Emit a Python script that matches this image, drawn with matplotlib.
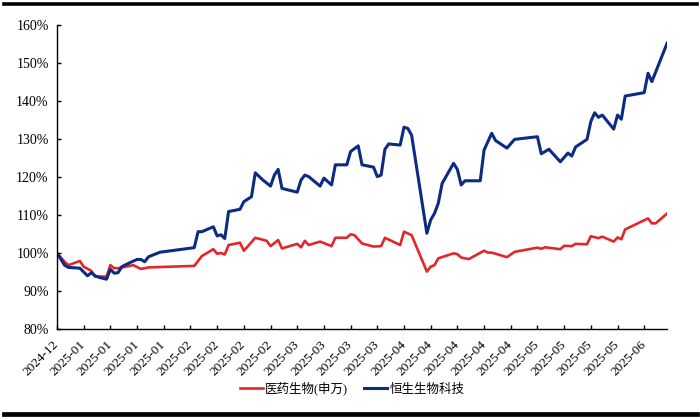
import matplotlib
matplotlib.use("Agg")
import matplotlib.pyplot as plt
from matplotlib.lines import Line2D
import pandas as pd

# ---- data ----
blue_name = "恒生生物科技"
red_name = "医药生物(申万)"

blue_dates = ["2024-12-31", "2025-01-02", "2025-01-03", "2025-01-06", "2025-01-08", "2025-01-09",
              "2025-01-10", "2025-01-11", "2025-01-13", "2025-01-14", "2025-01-15", "2025-01-16",
              "2025-01-17", "2025-01-19", "2025-01-21", "2025-01-22", "2025-01-23", "2025-01-24",
              "2025-01-27", "2025-02-05", "2025-02-06", "2025-02-07", "2025-02-10", "2025-02-11",
              "2025-02-12", "2025-02-13", "2025-02-14", "2025-02-17", "2025-02-18", "2025-02-20",
              "2025-02-21", "2025-02-23", "2025-02-25", "2025-02-26", "2025-02-27", "2025-02-28",
              "2025-03-04", "2025-03-05", "2025-03-06", "2025-03-07", "2025-03-10", "2025-03-11",
              "2025-03-13", "2025-03-14", "2025-03-17", "2025-03-18", "2025-03-20", "2025-03-21",
              "2025-03-24", "2025-03-25", "2025-03-26", "2025-03-27", "2025-03-28", "2025-03-31",
              "2025-04-01", "2025-04-02", "2025-04-03", "2025-04-07", "2025-04-08", "2025-04-09",
              "2025-04-10", "2025-04-11", "2025-04-14", "2025-04-15", "2025-04-16", "2025-04-17",
              "2025-04-21", "2025-04-22", "2025-04-24", "2025-04-25", "2025-04-28", "2025-04-30",
              "2025-05-06", "2025-05-07", "2025-05-09", "2025-05-12", "2025-05-14", "2025-05-15",
              "2025-05-16", "2025-05-19", "2025-05-20", "2025-05-21", "2025-05-22", "2025-05-23",
              "2025-05-26", "2025-05-27", "2025-05-28", "2025-05-29", "2025-06-03", "2025-06-04",
              "2025-06-05", "2025-06-09"]
blue_vals = [100.0, 96.8, 96.2, 96.0, 94.0, 94.8,
             94.0, 93.6, 93.1, 95.7, 94.7, 94.8,
             96.4, 97.4, 98.3, 98.3, 97.7, 99.0,
             100.2, 101.4, 105.6, 105.6, 106.9, 104.5,
             104.8, 103.8, 110.9, 111.5, 113.5, 114.8,
             121.1, 119.2, 117.6, 120.5, 122.0, 117.0,
             116.0, 119.2, 120.5, 120.1, 117.6, 119.7,
             117.9, 123.2, 123.2, 126.7, 128.2, 123.2,
             122.6, 120.1, 120.5, 127.3, 128.7, 128.4,
             133.1, 132.8, 131.0, 105.2, 108.7, 110.4,
             113.1, 118.3, 123.6, 122.0, 117.9, 119.0,
             119.0, 127.1, 131.5, 129.6, 127.6, 129.9,
             130.6, 126.1, 127.3, 124.0, 126.3, 125.5,
             127.9, 129.9, 134.6, 136.9, 135.7, 136.3,
             132.6, 136.3, 135.2, 141.3, 142.2, 147.3,
             145.1, 155.2]

red_dates = ["2024-12-31", "2025-01-02", "2025-01-03", "2025-01-06", "2025-01-07", "2025-01-09",
             "2025-01-10", "2025-01-13", "2025-01-14", "2025-01-15", "2025-01-16", "2025-01-20",
             "2025-01-22", "2025-01-24", "2025-02-05", "2025-02-07", "2025-02-10", "2025-02-11",
             "2025-02-12", "2025-02-13", "2025-02-14", "2025-02-17", "2025-02-18", "2025-02-19",
             "2025-02-21", "2025-02-24", "2025-02-25", "2025-02-27", "2025-02-28", "2025-03-04",
             "2025-03-05", "2025-03-06", "2025-03-07", "2025-03-10", "2025-03-13", "2025-03-14",
             "2025-03-17", "2025-03-18", "2025-03-19", "2025-03-21", "2025-03-24", "2025-03-26",
             "2025-03-27", "2025-03-31", "2025-04-01", "2025-04-03", "2025-04-07", "2025-04-08",
             "2025-04-09", "2025-04-10", "2025-04-14", "2025-04-15", "2025-04-16", "2025-04-18",
             "2025-04-22", "2025-04-23", "2025-04-24", "2025-04-26", "2025-04-28", "2025-04-30",
             "2025-05-06", "2025-05-07", "2025-05-08", "2025-05-12", "2025-05-13", "2025-05-15",
             "2025-05-16", "2025-05-19", "2025-05-20", "2025-05-22", "2025-05-23", "2025-05-26",
             "2025-05-27", "2025-05-28", "2025-05-29", "2025-06-04", "2025-06-05", "2025-06-06",
             "2025-06-09"]
red_vals = [100.0, 97.7, 96.8, 97.9, 96.4, 95.3,
            93.8, 93.8, 96.8, 96.0, 96.0, 96.8,
            95.8, 96.2, 96.6, 99.2, 101.0, 99.8,
            100.0, 99.6, 102.1, 102.7, 100.6, 101.7,
            104.0, 103.2, 101.8, 103.4, 101.2, 102.4,
            101.5, 103.2, 102.1, 103.0, 101.8, 104.0,
            104.0, 104.9, 104.7, 102.5, 101.7, 101.8,
            104.0, 102.1, 105.6, 104.7, 95.1, 96.4,
            96.8, 98.6, 99.9, 99.7, 98.8, 98.4,
            100.6, 100.1, 100.1, 99.5, 98.9, 100.3,
            101.4, 101.1, 101.5, 101.0, 101.9, 101.8,
            102.4, 102.3, 104.4, 103.9, 104.3, 103.0,
            104.1, 103.6, 106.2, 109.1, 107.8, 107.8,
            110.4]

tick_start = "2024-12-31"
tick_count = 23
tick_labels = ["2024-12", "2025-01", "2025-01", "2025-01", "2025-01", "2025-02", "2025-02",
               "2025-02", "2025-02", "2025-03", "2025-03", "2025-03", "2025-03", "2025-04",
               "2025-04", "2025-04", "2025-04", "2025-04", "2025-05", "2025-05", "2025-05",
               "2025-05", "2025-06"]
y_ticks = [80, 90, 100, 110, 120, 130, 140, 150, 160]

# ---- figure ----
serif = ["Liberation Serif", "DejaVu Serif"]
cjk = ["Liberation Serif", "Noto Sans CJK SC", "DejaVu Sans"]

fig = plt.figure(figsize=(7.0, 4.2), dpi=100)
ax = fig.add_axes([0.0814, 0.2167, 0.8716, 0.7238])

bd = pd.to_datetime(blue_dates)
rd = pd.to_datetime(red_dates)
ax.plot(rd, red_vals, color="#e3262b", lw=1.9, label=red_name, solid_joinstyle="round")
ax.plot(bd, blue_vals, color="#0c2b82", lw=2.2, label=blue_name, solid_joinstyle="round")

ticks = pd.date_range(tick_start, periods=tick_count, freq="7D")
ax.set_xticks(ticks)
ax.set_xticklabels(tick_labels, rotation=45, ha="right", va="center",
                   rotation_mode="anchor", family=serif, fontsize=9.5)
ax.set_xlim(pd.Timestamp("2024-12-31"), pd.Timestamp("2025-06-09"))

ax.set_ylim(80, 160)
ax.set_yticks(y_ticks)
ax.set_yticklabels([f"{v}%" for v in y_ticks], family=serif, fontsize=10)

for s in ["top", "right"]:
    ax.spines[s].set_visible(False)
for s in ["left", "bottom"]:
    ax.spines[s].set_color("black")
    ax.spines[s].set_linewidth(1.0)
ax.tick_params(axis="x", direction="in", length=3, width=1, pad=10, colors="black")
ax.tick_params(axis="y", direction="in", length=3, width=1, pad=6, colors="black")

leg = fig.legend(loc="center", bbox_to_anchor=(0.503, 0.074), ncol=2, frameon=False,
                 prop={"family": cjk, "size": 9}, handlelength=1.85, handletextpad=0.15,
                 columnspacing=1.3)

# report-style black bars top and bottom
fig.add_artist(Line2D([0.006, 0.996], [0.990, 0.990], color="black", lw=2.6,
                      transform=fig.transFigure))
fig.add_artist(Line2D([0.006, 0.996], [0.0135, 0.0135], color="black", lw=3.4,
                      transform=fig.transFigure))

fig.savefig("out.png", dpi=100)
